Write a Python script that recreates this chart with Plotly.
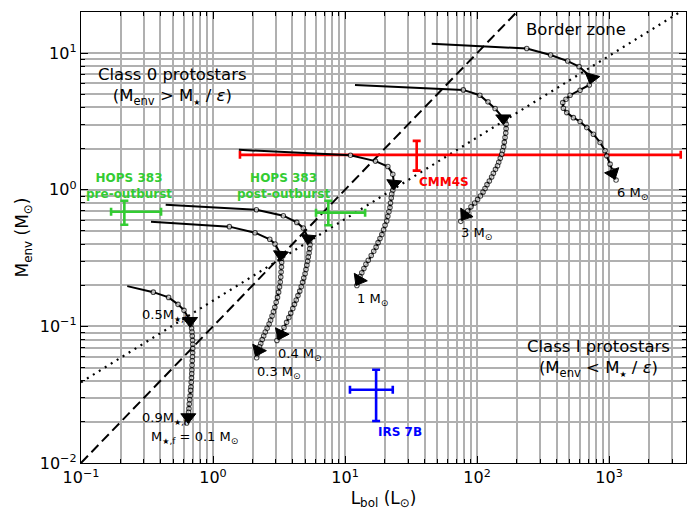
import plotly.graph_objects as go

# ---------------- data ----------------
# Evolutionary tracks: bolometric luminosity (Lsun) and envelope mass (Msun)
L_T01 = [0.224, 0.353, 0.461, 0.543, 0.603, 0.670, 0.680, 0.688, 0.693, 0.697, 0.700, 0.702, 0.702, 0.701,
         0.699, 0.697, 0.694, 0.692, 0.690, 0.687, 0.684, 0.680, 0.676, 0.671, 0.666, 0.661, 0.657, 0.653,
         0.650, 0.640, 0.632]
M_T01 = [0.197, 0.178, 0.163, 0.145, 0.131, 0.110, 0.104, 0.097, 0.091, 0.085, 0.079, 0.074, 0.069, 0.064,
         0.060, 0.056, 0.052, 0.048, 0.045, 0.042, 0.039, 0.036, 0.034, 0.031, 0.029, 0.027, 0.025, 0.0235,
         0.0217, 0.0205, 0.0196]

L_T03 = [0.339, 1.33, 2.08, 2.69, 2.95, 3.26, 3.30, 3.31, 3.30, 3.28, 3.26, 3.23, 3.19, 3.14, 3.08, 3.01,
         2.94, 2.87, 2.80, 2.73, 2.66, 2.57, 2.49, 2.42, 2.36, 2.30, 2.25, 2.20, 2.17, 2.14]
M_T03 = [0.584, 0.537, 0.485, 0.434, 0.401, 0.335, 0.315, 0.294, 0.272, 0.250, 0.230, 0.211, 0.194, 0.178,
         0.163, 0.150, 0.138, 0.128, 0.119, 0.111, 0.104, 0.097, 0.091, 0.085, 0.080, 0.075, 0.071, 0.067,
         0.063, 0.059]

L_T04 = [0.438, 2.13, 3.41, 4.31, 4.83, 5.27, 5.40, 5.43, 5.40, 5.34, 5.27, 5.21, 5.14, 5.06, 4.98, 4.87,
         4.77, 4.66, 4.54, 4.40, 4.27, 4.14, 4.02, 3.88, 3.75, 3.61, 3.45, 3.29, 3.17, 3.05]
M_T04 = [0.777, 0.714, 0.646, 0.577, 0.525, 0.441, 0.420, 0.395, 0.370, 0.345, 0.322, 0.300, 0.280, 0.261,
         0.243, 0.226, 0.210, 0.195, 0.181, 0.168, 0.156, 0.145, 0.135, 0.125, 0.116, 0.107, 0.098, 0.089,
         0.084, 0.0789]

L_T1 = [1.57, 11.0, 17.0, 21.1, 23.0, 23.5, 23.3, 23.0, 22.6, 22.4, 22.1, 21.9, 21.5, 21.1, 20.7, 20.1,
        19.6, 19.0, 18.4, 17.8, 17.2, 16.5, 15.8, 15.0, 14.4, 13.9, 13.4, 13.0, 12.8, 12.3]
M_T1 = [1.96, 1.79, 1.62, 1.48, 1.30, 1.11, 1.05, 0.99, 0.93, 0.87, 0.80, 0.74, 0.69, 0.64, 0.59, 0.55,
        0.51, 0.47, 0.44, 0.41, 0.38, 0.355, 0.33, 0.305, 0.285, 0.265, 0.247, 0.232, 0.219, 0.199]

L_T3 = [11.9, 78.7, 105, 121, 137, 158, 163, 166, 166, 165, 163, 161, 159, 156, 154, 150,
        146, 143, 138, 133, 129, 124, 119, 115, 111, 106, 101, 96, 90, 85, 81.1, 75.3]
M_T3 = [5.85, 5.38, 4.92, 4.40, 3.93, 3.34, 3.18, 3.02, 2.80, 2.60, 2.41, 2.23, 2.06, 1.93, 1.82, 1.70,
        1.59, 1.50, 1.41, 1.32, 1.24, 1.16, 1.09, 1.02, 0.96, 0.90, 0.85, 0.80, 0.75, 0.70, 0.653, 0.587]

L_T6 = [45.4, 238, 361, 486, 593, 739, 709, 603, 507, 472, 446, 451, 478, 537, 603, 678, 761, 855,
        933, 961, 1018, 1067, 1130]
M_T6 = [11.7, 10.8, 9.68, 8.75, 7.96, 6.61, 5.85, 5.35, 4.92, 4.60, 4.34, 3.95, 3.67, 3.37, 3.16, 2.85,
        2.55, 2.22, 1.93, 1.77, 1.54, 1.38, 1.18]

# arrow heads along the tracks
ARROW_L = [0.670, 0.650, 3.26, 2.20, 5.27, 3.27, 23.5, 12.8, 158, 81.1, 739, 1067]
ARROW_M = [0.110, 0.0217, 0.335, 0.0667, 0.441, 0.088, 1.11, 0.219, 3.34, 0.653, 6.61, 1.32]

# class boundary lines
DASHED_L = [0.1, 200]
DASHED_M = [0.01, 20]
DOTTED_L = [0.1, 3450]
DOTTED_M = [0.039, 20]

# observed sources: L, L-, L+, M, M-, M+
SOURCES = ["HOPS 383 pre", "HOPS 383 post", "CMM4S", "IRS 7B"]
SRC_L = [0.213, 7.47, 34.9, 17.2]
SRC_L_MINUS = [0.044, 1.44, 33.3, 6.3]
SRC_L_PLUS = [0.191, 6.73, 3458, 5.8]
SRC_M = [0.690, 0.680, 1.80, 0.0344]
SRC_M_MINUS = [0.135, 0.130, 0.42, 0.0141]
SRC_M_PLUS = [0.141, 0.150, 0.48, 0.0138]

X_TICKVALS = [0.1, 1, 10, 100, 1000]
X_TICKTEXT = ["10<sup>−1</sup>", "10<sup>0</sup>", "10<sup>1</sup>", "10<sup>2</sup>", "10<sup>3</sup>"]
Y_TICKVALS = [0.01, 0.1, 1, 10]
Y_TICKTEXT = ["10<sup>−2</sup>", "10<sup>−1</sup>", "10<sup>0</sup>", "10<sup>1</sup>"]

# ---------------- figure ----------------
FONT = "DejaVu Sans"
GREEN = "#33cc33"
STAR = "<span style='font-size:8px'>★</span>"
fig = go.Figure()

fig.add_trace(go.Scatter(x=DASHED_L, y=DASHED_M, mode="lines",
                         line=dict(color="black", width=2, dash="10px,5px"), hoverinfo="skip"))
fig.add_trace(go.Scatter(x=DOTTED_L, y=DOTTED_M, mode="lines",
                         line=dict(color="black", width=2.2, dash="2px,5px"), hoverinfo="skip"))

src_colors = [GREEN, GREEN, "#ff0000", "#0000ff"]
for i in range(len(SOURCES)):
    fig.add_trace(go.Scatter(
        x=[SRC_L[i]], y=[SRC_M[i]], mode="markers",
        marker=dict(size=0.1, color=src_colors[i]),
        error_x=dict(type="data", symmetric=False, array=[SRC_L_PLUS[i]], arrayminus=[SRC_L_MINUS[i]],
                     color=src_colors[i], thickness=2.6, width=4),
        error_y=dict(type="data", symmetric=False, array=[SRC_M_PLUS[i]], arrayminus=[SRC_M_MINUS[i]],
                     color=src_colors[i], thickness=2.6, width=4),
        hoverinfo="skip"))

for L, M in [(L_T01, M_T01), (L_T03, M_T03), (L_T04, M_T04), (L_T1, M_T1), (L_T3, M_T3), (L_T6, M_T6)]:
    fig.add_trace(go.Scatter(
        x=L, y=M, mode="lines+markers",
        line=dict(color="black", width=2),
        marker=dict(size=[0] + [4.5] * (len(L) - 1), color="white", symbol="circle",
                    line=dict(color="black", width=1.1)),
        hoverinfo="skip"))

arrow_angles = [0, 0, 5, 25, 5, 25, 5, 30, 0, 35, 15, -20]
fig.add_trace(go.Scatter(
    x=ARROW_L, y=ARROW_M, mode="markers",
    marker=dict(symbol="triangle-down", size=13, color="black", angle=arrow_angles,
                line=dict(color="black", width=1)),
    hoverinfo="skip"))

# ---------------- annotations ----------------
L_, R_, T_, B_ = 81, 686, 12, 463


def px(xp, yp):
    return (xp - L_) / (R_ - L_), (B_ - yp) / (B_ - T_)


def note(text, xp, yp, size=13, color="black", bold=False, xanchor="center"):
    x, y = px(xp, yp)
    if bold:
        text = "<b>" + text.replace("<br>", "</b><br><b>") + "</b>"
    fig.add_annotation(x=x, y=y, xref="paper", yref="paper", text=text, showarrow=False,
                       xanchor=xanchor, yanchor="middle",
                       font=dict(family=FONT, size=size, color=color))


note("Class 0 protostars<br>(M<sub>env</sub> > M<sub>" + STAR + "</sub> / <i>ε</i>)", 172, 87, size=16.5)
note("Border zone", 576, 29, size=16.5)
note("Class I protostars<br>(M<sub>env</sub> < M<sub>" + STAR + "</sub> / <i>ε</i>)", 598, 358, size=16.5)
note("HOPS 383<br>pre-outburst", 129, 186, size=12, color=GREEN, bold=True)
note("HOPS 383<br>post-outburst", 283, 186, size=12, color=GREEN, bold=True)
note("CMM4S", 417, 182, size=12, color="#ff0000", bold=True, xanchor="left")
note("IRS 7B", 376, 432, size=12, color="#0000ff", bold=True, xanchor="left")
note("6 M<sub>⊙</sub>", 632, 193)
note("3 M<sub>⊙</sub>", 476, 234)
note("1 M<sub>⊙</sub>", 372, 299)
note("0.4 M<sub>⊙</sub>", 300, 354)
note("0.3 M<sub>⊙</sub>", 279, 372)
note("0.5M<sub>" + STAR + ",f</sub>", 165, 315)
note("0.9M<sub>" + STAR + ",f</sub>", 165, 418)
note("M<sub>" + STAR + ",f</sub> = 0.1 M<sub>⊙</sub>", 194, 437)

GRID = "#b0b0b0"
x_minor = [m * 10 ** e for e in range(-1, 4) for m in range(2, 10) if m * 10 ** e < 4000]
y_minor = [m * 10 ** e for e in range(-2, 2) for m in range(2, 10) if m * 10 ** e < 20]

axis_common = dict(type="log", showline=True, linecolor="black", linewidth=1.4, mirror="allticks",
                   ticks="inside", ticklen=7, tickwidth=1.2, tickcolor="black", automargin=False,
                   showgrid=True, gridcolor=GRID, gridwidth=1.5, zeroline=False,
                   tickfont=dict(family=FONT, size=16, color="black"))

fig.update_layout(
    width=687, height=511,
    margin=dict(l=L_, r=687 - R_, t=T_, b=511 - B_),
    plot_bgcolor="white", paper_bgcolor="white",
    showlegend=False,
    font=dict(family=FONT, color="black"),
    xaxis=dict(range=[-1, 3.583], tickvals=X_TICKVALS, ticktext=X_TICKTEXT,
               title=dict(text="L<sub>bol</sub> (L<sub>⊙</sub>)", font=dict(family=FONT, size=17), standoff=5),
               minor=dict(tickvals=x_minor, ticks="inside", ticklen=4, tickcolor="black", tickwidth=1,
                          showgrid=True, gridcolor=GRID, gridwidth=1.5),
               **axis_common),
    yaxis=dict(range=[-2, 1.301], tickvals=Y_TICKVALS, ticktext=Y_TICKTEXT,
               title=dict(text="M<sub>env</sub> (M<sub>⊙</sub>)", font=dict(family=FONT, size=17), standoff=6),
               minor=dict(tickvals=y_minor, ticks="inside", ticklen=4, tickcolor="black", tickwidth=1,
                          showgrid=True, gridcolor=GRID, gridwidth=1.5),
               **axis_common),
)

fig.write_html("out.html", config={"displayModeBar": False},
               post_script="document.body.style.margin='0';document.body.style.overflow='hidden';")
